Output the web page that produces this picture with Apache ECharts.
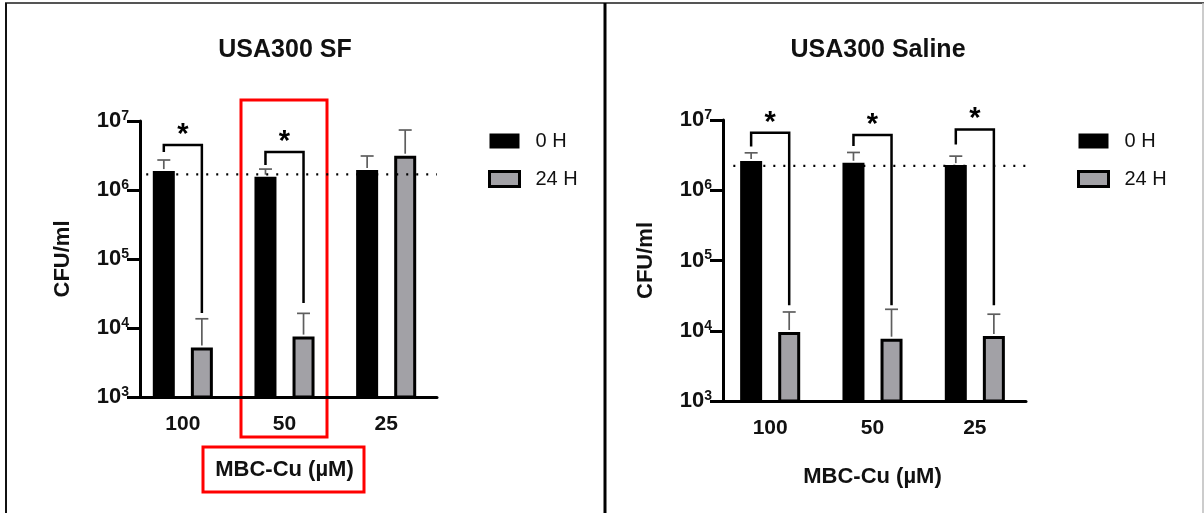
<!DOCTYPE html>
<html>
<head>
<meta charset="utf-8">
<script src="https://cdn.jsdelivr.net/npm/echarts@6/dist/echarts.min.js"></script>
<style>
  html, body { margin: 0; padding: 0; background: #fff; }
  #chart { width: 1204px; height: 513px; }
</style>
</head>
<body>
<div id="chart"></div>
<script>
const categories = ['100', '50', '25'];
const seriesNames = ['0 H', '24 H'];

// USA300 SF (mean and top of error bar, CFU/ml)
const sfMean0h = [1.88e6, 1.56e6, 1.95e6];
const sfUpper0h = [2.72e6, 2.01e6, 3.11e6];
const sfMean24h = [5.2e3, 7.5e3, 3.14e6];
const sfUpper24h = [1.36e4, 1.63e4, 7.4e6];
const sfInoculum = 1.69e6;
// [category index, left leg bottom, bracket top, right leg bottom]
const sfBrackets = [
  [0, 3.56e6, 4.49e6, 1.65e4],
  [1, 2.3e6, 3.56e6, 2.3e4],
];

// USA300 Saline
const salMean0h = [2.6e6, 2.46e6, 2.28e6];
const salUpper0h = [3.41e6, 3.45e6, 3.06e6];
const salMean24h = [9.6e3, 7.7e3, 8.4e3];
const salUpper24h = [1.85e4, 2.02e4, 1.72e4];
const salInoculum = 2.23e6;
const salBrackets = [
  [0, 4.19e6, 6.6e6, 2.31e4],
  [1, 4.27e6, 6.1e6, 2.31e4],
  [2, 4.49e6, 7.35e6, 2.31e4],
];

const yMin = 1e3;
const yMax = 1e7;

const FONT = 'Liberation Sans, Arial, Helvetica, sans-serif';
const INK = '#111';
const GREY_BAR = '#a2a1a6';
const BAR_W = 22;
const BAR_GAP = 0.73;
const PAIR_OFFSET = (BAR_W * (1 + BAR_GAP)) / 2;

function barSeries(gi, name, values, color) {
  return {
    type: 'bar',
    name: name,
    xAxisIndex: gi,
    yAxisIndex: gi,
    data: values,
    barWidth: BAR_W,
    barGap: BAR_GAP * 100 + '%',
    itemStyle: { color: color, borderColor: '#000', borderWidth: 3 },
    emphasis: { disabled: true },
    z: 2,
  };
}

function errorSeries(gi, means, uppers, sign) {
  return {
    type: 'custom',
    xAxisIndex: gi,
    yAxisIndex: gi,
    silent: true,
    z: 3,
    data: means.map((m, i) => [i, m, uppers[i]]),
    renderItem(params, api) {
      const base = api.coord([api.value(0), api.value(1)]);
      const top = api.coord([api.value(0), api.value(2)]);
      const x = base[0] + sign * PAIR_OFFSET;
      const cap = 6.5;
      const style = { stroke: '#5e5e5e', lineWidth: 1.7 };
      return {
        type: 'group',
        children: [
          { type: 'line', shape: { x1: x, y1: base[1] - 2, x2: x, y2: top[1] }, style: style },
          { type: 'line', shape: { x1: x - cap, y1: top[1], x2: x + cap, y2: top[1] }, style: style },
        ],
      };
    },
  };
}

function bracketSeries(gi, brackets) {
  return {
    type: 'custom',
    xAxisIndex: gi,
    yAxisIndex: gi,
    silent: true,
    z: 4,
    data: brackets,
    renderItem(params, api) {
      const c = api.value(0);
      const l = api.coord([c, api.value(1)]);
      const t = api.coord([c, api.value(2)]);
      const r = api.coord([c, api.value(3)]);
      const xl = l[0] - PAIR_OFFSET;
      const xr = l[0] + PAIR_OFFSET;
      return {
        type: 'group',
        children: [
          {
            type: 'polyline',
            shape: { points: [[xl, l[1]], [xl, t[1]], [xr, t[1]], [xr, r[1]]] },
            style: { stroke: '#000', lineWidth: 2.5, fill: null },
          },
          {
            type: 'text',
            x: l[0],
            y: t[1] - 10,
            style: {
              text: '*', fontSize: 29, fontWeight: 'bold', fontFamily: FONT,
              align: 'center', verticalAlign: 'middle', fill: '#000',
            },
          },
        ],
      };
    },
  };
}

function inoculumSeries(gi, value) {
  return {
    type: 'custom',
    xAxisIndex: gi,
    yAxisIndex: gi,
    silent: true,
    z: 5,
    data: [[0, value]],
    renderItem(params, api) {
      const p = api.coord([0, api.value(1)]);
      const band = api.size([1, 0])[0];
      return {
        type: 'line',
        shape: { x1: p[0] - 0.36 * band, y1: p[1], x2: p[0] + (categories.length - 0.5) * band, y2: p[1] },
        style: { stroke: '#000', lineWidth: 2.2, lineDash: [2, 8] },
      };
    },
  };
}

function xAxisFor(gi, nameGap) {
  return {
    type: 'category',
    gridIndex: gi,
    data: categories,
    z: 10,
    axisLine: { lineStyle: { color: '#000', width: 3 } },
    axisTick: { alignWithLabel: true, length: 11, lineStyle: { color: '#000', width: 3 } },
    axisLabel: { color: INK, fontSize: 21, fontWeight: 'bold', fontFamily: FONT, margin: 17 },
    name: 'MBC-Cu (µM)',
    nameLocation: 'middle',
    nameGap: nameGap,
    nameTextStyle: { color: INK, fontSize: 22, fontWeight: 'bold', fontFamily: FONT },
  };
}

function yAxisFor(gi, offset) {
  return {
    type: 'log',
    logBase: 10,
    gridIndex: gi,
    min: yMin,
    max: yMax,
    offset: offset,
    z: 10,
    axisLine: { show: true, lineStyle: { color: '#000', width: 3 } },
    axisTick: { show: true, length: 13, lineStyle: { color: '#000', width: 3 } },
    splitLine: { show: false },
    minorTick: { show: false },
    axisLabel: {
      margin: 11,
      formatter: (v) => '{b|10}{s|' + Math.round(Math.log10(v)) + '}',
      rich: {
        b: { fontSize: 22, fontWeight: 'bold', fontFamily: FONT, color: INK, lineHeight: 24 },
        s: { fontSize: 14, fontWeight: 'bold', fontFamily: FONT, color: INK, lineHeight: 14, verticalAlign: 'top' },
      },
    },
    name: 'CFU/ml',
    nameLocation: 'middle',
    nameRotate: 90,
    nameGap: 66,
    nameTextStyle: { color: INK, fontSize: 22, fontWeight: 'bold', fontFamily: FONT },
  };
}

function legendAt(left) {
  return {
    left: left,
    top: 131,
    padding: 0,
    orient: 'vertical',
    icon: 'rect',
    itemWidth: 30,
    itemHeight: 15,
    itemGap: 18,
    selectedMode: false,
    data: [
      { name: seriesNames[0], itemStyle: { color: '#000', borderColor: '#000', borderWidth: 0 } },
      { name: seriesNames[1], itemStyle: { color: GREY_BAR, borderColor: '#000', borderWidth: 3 } },
    ],
    textStyle: { color: INK, fontSize: 20, fontFamily: FONT, padding: [0, 0, 0, 11] },
  };
}

const chart = echarts.init(document.getElementById('chart'), null, { renderer: 'canvas' });

chart.setOption({
  animation: false,
  backgroundColor: '#fff',
  title: [
    { text: 'USA300 SF', left: 280, top: 33, textAlign: 'center',
      textStyle: { color: INK, fontSize: 25, fontWeight: 'bold', fontFamily: FONT } },
    { text: 'USA300 Saline', left: 873, top: 33, textAlign: 'center',
      textStyle: { color: INK, fontSize: 25, fontWeight: 'bold', fontFamily: FONT } },
  ],
  legend: [legendAt(488), legendAt(1077)],
  grid: [
    { left: 132, top: 121, width: 305, height: 276 },
    { left: 719, top: 120, width: 307, height: 281 },
  ],
  xAxis: [xAxisFor(0, 62), xAxisFor(1, 65)],
  yAxis: [yAxisFor(0, -8), yAxisFor(1, -4)],
  series: [
    barSeries(0, seriesNames[0], sfMean0h, '#000'),
    barSeries(0, seriesNames[1], sfMean24h, GREY_BAR),
    errorSeries(0, sfMean0h, sfUpper0h, -1),
    errorSeries(0, sfMean24h, sfUpper24h, 1),
    bracketSeries(0, sfBrackets),
    inoculumSeries(0, sfInoculum),
    barSeries(1, seriesNames[0], salMean0h, '#000'),
    barSeries(1, seriesNames[1], salMean24h, GREY_BAR),
    errorSeries(1, salMean0h, salUpper0h, -1),
    errorSeries(1, salMean24h, salUpper24h, 1),
    bracketSeries(1, salBrackets),
    inoculumSeries(1, salInoculum),
  ],
  graphic: [
    { type: 'line', shape: { x1: 5, y1: 3, x2: 1204, y2: 3 }, style: { stroke: '#555', lineWidth: 2 } },
    { type: 'line', shape: { x1: 6, y1: 3, x2: 6, y2: 513 }, style: { stroke: '#111', lineWidth: 2 } },
    { type: 'line', shape: { x1: 605, y1: 3, x2: 605, y2: 513 }, style: { stroke: '#000', lineWidth: 3 } },
    { type: 'line', shape: { x1: 1203, y1: 3, x2: 1203, y2: 513 }, style: { stroke: '#bbb', lineWidth: 1.5 } },
    { type: 'rect', shape: { x: 241, y: 100, width: 86, height: 337 }, style: { fill: null, stroke: '#ff0000', lineWidth: 3 } },
    { type: 'rect', shape: { x: 203, y: 447, width: 161, height: 45 }, style: { fill: null, stroke: '#ff0000', lineWidth: 3 } },
  ],
});
</script>
</body>
</html>
